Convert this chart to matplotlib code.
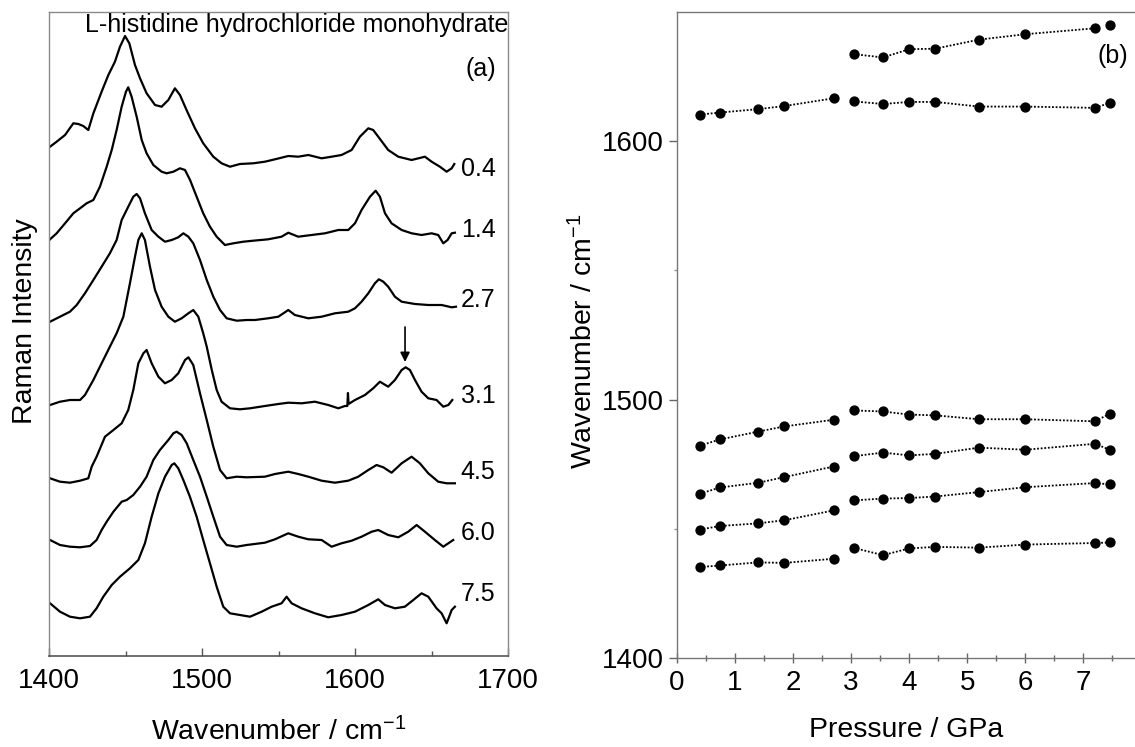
import matplotlib
matplotlib.use("Agg")
import matplotlib.pyplot as plt
from matplotlib.ticker import MultipleLocator, FixedLocator

plt.rcParams['font.family'] = ['Liberation Sans', 'DejaVu Sans']
plt.rcParams['mathtext.default'] = 'regular'

# ---------------- Panel (a): Raman spectra (offset intensity, a.u.) ----------------
pressure_labels = ["0.4", "1.4", "2.7", "3.1", "4.5", "6.0", "7.5"]
label_levels = [487, 426, 356, 260, 184, 123, 62]

wn_04 = [1400.5, 1404.8, 1410.3, 1415.7, 1419.0, 1422.2, 1425.5, 1428.8, 1434.2, 1438.6,
         1442.9, 1446.2, 1449.5, 1452.3, 1456.0, 1459.3, 1463.6, 1469.1, 1473.4, 1477.8,
         1482.1, 1485.4, 1489.7, 1495.2, 1500.6, 1507.2, 1512.6, 1518.1, 1524.6, 1533.3,
         1540.9, 1547.5, 1556.2, 1562.7, 1569.3, 1578.0, 1584.5, 1591.0, 1597.6, 1603.0,
         1608.5, 1611.7, 1615.0, 1621.5, 1628.1, 1636.8, 1645.5, 1649.9, 1655.3, 1659.7,
         1663.0, 1664.7]
int_04 = [509.3, 514.3, 521.0, 532.7, 532.0, 530.0, 526.0, 542.7, 564.3, 581.0,
          594.3, 609.3, 620.0, 612.7, 591.0, 577.7, 562.7, 551.0, 549.3, 556.0,
          567.7, 561.0, 546.0, 527.7, 512.7, 499.3, 492.7, 489.3, 492.0, 492.7,
          494.3, 496.7, 500.0, 499.3, 501.0, 497.7, 499.3, 501.0, 506.0, 519.3,
          527.7, 526.0, 519.3, 506.0, 499.3, 496.0, 499.3, 494.3, 489.3, 484.3,
          487.7, 492.0]

wn_14 = [1400.5, 1404.8, 1410.3, 1415.7, 1420.1, 1424.4, 1428.8, 1433.1, 1437.5, 1440.8,
         1444.0, 1447.3, 1450.1, 1451.6, 1453.8, 1457.1, 1460.4, 1463.6, 1468.0, 1473.4,
         1476.7, 1481.1, 1485.4, 1488.7, 1492.0, 1496.3, 1500.6, 1505.0, 1509.4, 1514.8,
         1520.3, 1526.8, 1533.3, 1543.1, 1551.8, 1556.2, 1562.7, 1571.4, 1580.2, 1588.9,
         1595.4, 1599.8, 1604.1, 1609.6, 1613.3, 1616.1, 1619.4, 1623.7, 1630.3, 1636.8,
         1643.3, 1649.9, 1654.2, 1657.5, 1660.3, 1663.0, 1665.1]
int_14 = [416.7, 422.7, 432.7, 442.7, 447.7, 452.7, 456.0, 469.3, 489.3, 506.0,
          526.0, 549.3, 564.3, 568.7, 559.3, 539.3, 516.0, 502.7, 491.0, 484.3,
          482.7, 484.3, 487.7, 486.0, 476.0, 459.3, 442.7, 429.3, 419.3, 411.0,
          412.7, 414.3, 415.3, 416.7, 419.3, 423.3, 419.3, 421.0, 422.7, 426.0,
          426.0, 432.7, 446.0, 459.3, 465.3, 459.3, 442.7, 432.7, 426.0, 422.7,
          421.0, 422.7, 421.0, 412.7, 416.0, 422.7, 423.3]

wn_27 = [1400.5, 1407.0, 1413.5, 1417.9, 1423.3, 1428.8, 1434.2, 1439.6, 1444.0, 1447.3,
         1451.6, 1454.9, 1457.1, 1459.3, 1462.5, 1466.9, 1471.3, 1475.6, 1480.0, 1484.3,
         1487.6, 1490.9, 1494.1, 1498.5, 1502.9, 1507.2, 1511.6, 1515.9, 1522.5, 1529.0,
         1534.4, 1543.1, 1549.7, 1556.2, 1560.5, 1569.3, 1578.0, 1586.7, 1595.4, 1599.8,
         1604.1, 1608.5, 1612.8, 1615.4, 1618.3, 1621.5, 1625.9, 1630.3, 1639.0, 1647.7,
         1656.4, 1663.0, 1665.8]
int_27 = [334.3, 339.3, 344.3, 351.0, 362.7, 376.0, 389.3, 402.7, 416.0, 436.0,
          449.3, 459.3, 462.0, 457.7, 442.7, 426.0, 419.3, 414.3, 416.0, 418.7,
          422.7, 419.3, 412.7, 396.0, 376.0, 359.3, 346.0, 337.7, 335.3, 336.0,
          336.0, 337.7, 339.3, 346.0, 341.0, 337.7, 339.3, 342.7, 344.3, 347.7,
          354.3, 362.7, 372.7, 376.7, 374.3, 369.3, 359.3, 354.3, 352.0, 351.0,
          351.0, 348.7, 349.3]

wn_31 = [1400.5, 1407.0, 1413.5, 1420.1, 1423.3, 1428.8, 1434.2, 1439.6, 1444.0, 1448.4,
         1452.7, 1456.0, 1458.2, 1460.4, 1462.5, 1465.8, 1469.1, 1473.4, 1477.8, 1482.1,
         1486.5, 1490.9, 1494.1, 1497.4, 1500.6, 1502.9, 1506.2, 1509.4, 1512.6, 1518.1,
         1524.6, 1531.2, 1540.9, 1549.7, 1556.2, 1564.9, 1573.6, 1582.3, 1588.9, 1593.2,
         1594.8, 1595.2, 1595.6, 1599.8, 1606.3, 1611.7, 1616.1, 1621.5, 1625.9, 1630.3,
         1632.9, 1635.7, 1639.0, 1643.3, 1647.7, 1653.1, 1657.5, 1660.8, 1663.4]
int_31 = [251.0, 254.3, 256.0, 256.0, 261.0, 276.0, 292.7, 309.3, 322.7, 339.3,
          372.7, 399.3, 416.0, 422.7, 416.0, 389.3, 366.0, 349.3, 339.3, 334.3,
          337.7, 342.7, 346.0, 339.3, 322.7, 309.3, 286.0, 266.0, 254.3, 247.7,
          246.7, 247.7, 250.0, 252.0, 253.3, 252.7, 254.3, 251.0, 247.7, 250.0,
          250.0, 263.0, 252.0, 256.0, 261.0, 267.7, 274.3, 269.3, 276.0, 286.0,
          288.7, 286.0, 276.0, 264.3, 257.7, 256.0, 249.3, 251.0, 256.0]

wn_45 = [1400.5, 1407.0, 1413.5, 1420.1, 1425.5, 1427.7, 1430.9, 1436.4, 1441.9, 1447.3,
         1451.6, 1454.9, 1458.2, 1461.5, 1463.6, 1466.9, 1471.3, 1475.6, 1480.0, 1484.3,
         1488.7, 1490.9, 1494.1, 1498.5, 1502.9, 1507.2, 1511.6, 1515.9, 1522.5, 1529.0,
         1540.9, 1547.5, 1556.2, 1562.7, 1569.3, 1578.0, 1586.7, 1595.4, 1601.9, 1608.5,
         1613.9, 1618.3, 1623.7, 1630.3, 1636.8, 1642.2, 1647.7, 1654.2, 1659.7, 1665.1]
int_45 = [177.7, 174.3, 173.3, 175.3, 177.7, 189.3, 199.3, 219.3, 226.0, 232.7,
          246.0, 266.0, 292.7, 302.7, 306.0, 292.7, 279.3, 272.7, 276.0, 282.7,
          296.0, 298.7, 291.0, 262.7, 236.0, 209.3, 186.0, 177.7, 179.3, 178.7,
          179.3, 182.0, 184.3, 182.0, 179.3, 175.3, 173.3, 175.3, 179.3, 186.0,
          191.0, 188.7, 183.3, 192.7, 199.3, 192.7, 182.7, 174.3, 172.7, 172.7]

wn_60 = [1400.5, 1407.0, 1413.5, 1420.1, 1426.6, 1430.9, 1434.2, 1437.5, 1441.9, 1447.3,
         1450.6, 1454.9, 1459.3, 1463.6, 1468.0, 1472.3, 1477.8, 1481.1, 1483.2, 1486.5,
         1489.8, 1494.1, 1498.5, 1502.9, 1507.2, 1511.6, 1515.9, 1522.5, 1529.0, 1540.9,
         1547.5, 1556.2, 1562.7, 1569.3, 1578.0, 1584.5, 1591.0, 1597.6, 1604.1, 1610.7,
         1615.0, 1621.5, 1628.1, 1634.6, 1640.1, 1645.5, 1652.0, 1657.5, 1660.8, 1664.0]
int_60 = [116.0, 111.0, 109.3, 108.7, 110.0, 116.0, 126.0, 134.3, 144.3, 154.3,
          156.0, 161.0, 169.3, 179.3, 196.0, 206.0, 216.0, 222.7, 224.3, 221.0,
          212.7, 196.0, 179.3, 159.3, 139.3, 119.3, 111.0, 109.3, 111.0, 113.3,
          116.7, 122.7, 119.3, 116.7, 116.0, 109.3, 112.7, 115.3, 119.3, 124.3,
          126.0, 121.0, 118.7, 124.3, 131.0, 124.3, 116.0, 109.3, 112.7, 116.0]

wn_75 = [1400.5, 1407.0, 1413.5, 1420.1, 1426.6, 1430.9, 1435.3, 1440.8, 1446.2, 1452.7,
         1458.2, 1462.5, 1466.9, 1471.3, 1475.6, 1480.0, 1481.7, 1484.3, 1487.6, 1491.9,
         1496.3, 1500.6, 1505.0, 1509.4, 1513.7, 1518.1, 1524.6, 1531.2, 1538.8, 1545.3,
         1551.8, 1555.1, 1558.4, 1564.9, 1573.6, 1582.3, 1591.0, 1599.8, 1608.5, 1615.0,
         1619.4, 1625.9, 1632.4, 1637.9, 1643.3, 1647.7, 1653.1, 1656.4, 1659.7, 1663.0,
         1665.1]
int_75 = [52.7, 44.3, 39.3, 37.7, 39.3, 47.7, 59.3, 71.0, 79.3, 87.7,
          96.0, 112.7, 139.3, 162.7, 179.3, 191.0, 192.7, 187.7, 176.0, 159.3,
          139.3, 116.0, 92.7, 69.3, 49.3, 42.7, 41.0, 39.3, 44.3, 49.3,
          52.7, 59.3, 52.7, 47.7, 42.7, 38.7, 41.0, 44.3, 51.0, 56.7,
          51.0, 47.7, 49.3, 56.0, 62.7, 59.3, 47.7, 42.7, 32.7, 46.0,
          49.3]

spectra_wn = [wn_04, wn_14, wn_27, wn_31, wn_45, wn_60, wn_75]
spectra_int = [int_04, int_14, int_27, int_31, int_45, int_60, int_75]

# ---------------- Panel (b): band positions vs pressure ----------------
p_low = [0.4, 0.75, 1.4, 1.85, 2.7]
p_high = [3.05, 3.55, 4.0, 4.45, 5.2, 6.0, 7.2, 7.45]

band_a_low = [1482.2, 1484.6, 1487.6, 1489.6, 1492.2]
band_a_high = [1495.8, 1495.4, 1494.2, 1493.9, 1492.4, 1492.4, 1491.6, 1494.5]
band_b_low = [1463.6, 1466.0, 1467.8, 1470.0, 1474.1]
band_b_high = [1478.1, 1479.5, 1478.4, 1479.0, 1481.4, 1480.6, 1482.9, 1480.6]
band_c_low = [1449.7, 1451.1, 1452.1, 1453.3, 1457.1]
band_c_high = [1461.0, 1461.7, 1461.9, 1462.5, 1464.2, 1466.1, 1467.7, 1467.2]
band_d_low = [1435.2, 1435.8, 1437.0, 1436.8, 1438.4]
band_d_high = [1442.6, 1439.8, 1442.4, 1443.0, 1442.7, 1443.9, 1444.5, 1444.7]
band_e_low = [1610.3, 1611.1, 1612.4, 1613.6, 1616.6]
band_e_high = [1615.4, 1614.4, 1615.2, 1615.2, 1613.4, 1613.4, 1612.9, 1614.8]
band_f_high = [1633.7, 1632.4, 1635.6, 1635.8, 1639.3, 1641.4, 1643.7, 1644.8]

# ---------------- Figure ----------------
W, H = 1135, 747
fig = plt.figure(figsize=(W / 100, H / 100), dpi=100)

ax1 = fig.add_axes([49.3 / W, (H - 656) / H, 459 / W, 644 / H])
ax2 = fig.add_axes([676.7 / W, (H - 658) / H, (W - 676.7) / W, 646 / H])

# Panel (a)
for wn, inten in zip(spectra_wn, spectra_int):
    ax1.plot(wn, inten, color='black', lw=1.6)
for lab, lev in zip(pressure_labels, label_levels):
    ax1.text(1669, lev, lab, fontsize=18, ha='left', va='center')

ax1.annotate('', xy=(1632.5, 294), xytext=(1632.5, 329),
             arrowprops=dict(arrowstyle='-|>', color='black', lw=1.2,
                             mutation_scale=14, shrinkA=0, shrinkB=0))

ax1.set_xlim(1400, 1700)
ax1.set_ylim(0, 644)
ax1.xaxis.set_major_locator(MultipleLocator(100))
ax1.xaxis.set_minor_locator(MultipleLocator(50))
ax1.set_yticks([])
ax1.tick_params(axis='x', which='major', direction='in', length=6, width=1,
                labelsize=20, pad=9, color='#555555')
ax1.tick_params(axis='x', which='minor', direction='in', length=3.5, width=1,
                color='#555555')
for side in ['left', 'top', 'right']:
    ax1.spines[side].set_color('#8a8a8a')
    ax1.spines[side].set_linewidth(1.0)
ax1.spines['bottom'].set_color('#555555')
ax1.spines['bottom'].set_linewidth(1.2)

ax1.set_xlabel('Wavenumber / cm$^{-1}$', fontsize=20.5)
ax1.xaxis.set_label_coords(0.5, -0.118)
ax1.xaxis.label.set_va('center')
ax1.set_ylabel('Raman Intensity', fontsize=20.5)
ax1.yaxis.set_label_coords(-0.053, 0.52)
ax1.yaxis.label.set_va('center')

ax1.text(0.078, 0.98, 'L-histidine hydrochloride monohydrate', transform=ax1.transAxes,
         fontsize=18, ha='left', va='center')
ax1.text(0.973, 0.911, '(a)', transform=ax1.transAxes, fontsize=18,
         ha='right', va='center')

# Panel (b)
line_kw = dict(color='black', lw=1.3, linestyle=(0, (1, 1)))
mk_kw = dict(color='black', marker='o', ms=6.4, linestyle='none')
low_sets = [band_a_low, band_b_low, band_c_low, band_d_low, band_e_low]
high_sets = [band_a_high, band_b_high, band_c_high, band_d_high, band_e_high]
for ys in low_sets:
    ax2.plot(p_low, ys, **line_kw)
    ax2.plot(p_low, ys, **mk_kw)
for ys in high_sets:
    ax2.plot(p_high, ys, **line_kw)
    ax2.plot(p_high, ys, **mk_kw)
ax2.plot(p_high[:-1], band_f_high[:-1], **line_kw)
ax2.plot(p_high, band_f_high, **mk_kw)

ax2.set_xlim(0, (W - 676.7) / 58.1)
ax2.set_ylim(1400, 1650)
ax2.xaxis.set_major_locator(FixedLocator([0, 1, 2, 3, 4, 5, 6, 7]))
ax2.xaxis.set_minor_locator(MultipleLocator(0.5))
ax2.yaxis.set_major_locator(FixedLocator([1400, 1500, 1600]))
ax2.yaxis.set_minor_locator(FixedLocator([1450, 1550]))
ax2.tick_params(axis='x', which='major', direction='inout', length=7, width=1,
                labelsize=20, pad=5, color='#666666')
ax2.tick_params(axis='x', which='minor', direction='inout', length=4, width=1,
                color='#666666')
ax2.tick_params(axis='y', which='major', direction='out', length=6, width=1,
                labelsize=20, pad=3, color='#666666')
ax2.tick_params(axis='y', which='minor', direction='out', length=2.5, width=1,
                color='#999999')
for side in ['left', 'bottom', 'top']:
    ax2.spines[side].set_color('#777777')
    ax2.spines[side].set_linewidth(1.0)
ax2.spines['right'].set_visible(False)

ax2.set_xlabel('Pressure / GPa', fontsize=20.5)
ax2.xaxis.set_label_coords(0.5, -0.111)
ax2.xaxis.label.set_va('center')
ax2.set_ylabel('Wavenumber / cm$^{-1}$', fontsize=20.5)
ax2.yaxis.set_label_coords(-0.204, 0.49)
ax2.yaxis.label.set_va('center')

ax2.text(0.985, 0.932, '(b)', transform=ax2.transAxes, fontsize=18,
         ha='right', va='center')

fig.savefig('out.png', dpi=100)
